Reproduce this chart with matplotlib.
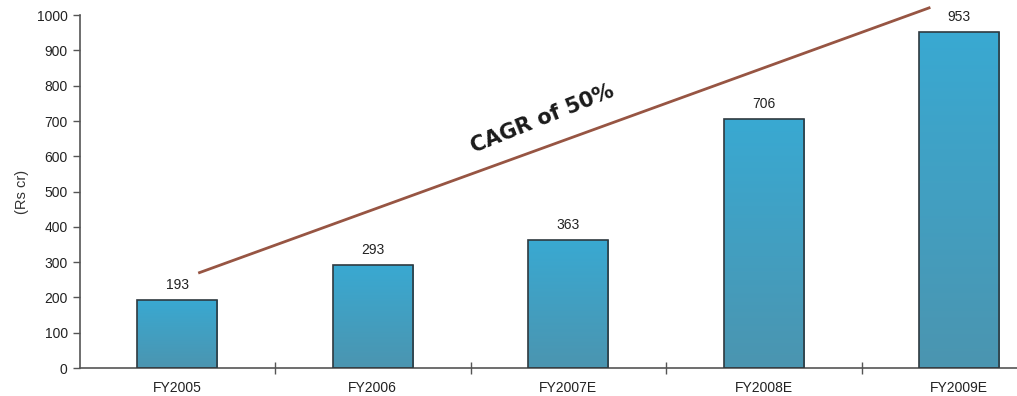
import matplotlib
matplotlib.use("Agg")
import matplotlib.pyplot as plt
import matplotlib.colors as mcolors
import numpy as np

plt.rcParams["font.family"] = ["Liberation Sans", "DejaVu Sans"]

# Revenue by financial year (Rs cr)
years = ["FY2005", "FY2006", "FY2007E", "FY2008E", "FY2009E"]
revenue = [193, 293, 363, 706, 953]

# Growth trend line drawn over the bars (category position, value)
trend_x = [0.107, 3.852]
trend_y = [269, 1022]
trend_label = "CAGR of 50%"

BAR_WIDTH = 0.41
BAR_TOP = "#39a9d2"
BAR_BOTTOM = "#4b95b0"
EDGE = "#2f3a40"
AXIS = "#555555"

fig = plt.figure(figsize=(10.17, 3.96), dpi=100)
ax = fig.add_axes([0.0782, 0.0707, 0.9218, 0.891])

x = np.arange(len(years))
grad = mcolors.LinearSegmentedColormap.from_list("bar", [BAR_BOTTOM, BAR_TOP])
ramp = np.linspace(0, 1, 256).reshape(-1, 1)

bars = ax.bar(x, revenue, width=BAR_WIDTH, facecolor="none",
              edgecolor=EDGE, linewidth=1.2, zorder=3)
for rect, val in zip(bars, revenue):
    x0 = rect.get_x()
    im = ax.imshow(ramp, cmap=grad, aspect="auto", origin="lower",
                   extent=(x0, x0 + rect.get_width(), 0, val), zorder=2)
    im.set_clip_path(rect)
    ax.text(rect.get_x() + rect.get_width() / 2, val + 22, f"{val}",
            ha="center", va="bottom", fontsize=10, color="#222222")

ax.plot(trend_x, trend_y, color="#975543", linewidth=2, zorder=4,
        clip_on=False, solid_capstyle="butt")
ax.text(1.87, 705, trend_label, rotation=22, ha="center", va="center",
        fontsize=15, fontweight="heavy", family="DejaVu Sans",
        color="#1a1a1a")

ax.set_xlim(-0.5, 4.295)
ax.set_ylim(0, 1000)
ax.set_yticks(np.arange(0, 1001, 100))
ax.set_xticks(x)
ax.set_xticklabels(years, fontsize=10)
ax.set_xticks(np.arange(0.5, 4.5, 1), minor=True)
ax.tick_params(axis="x", which="major", length=0, pad=9, colors="#222222")
ax.tick_params(axis="x", which="minor", direction="inout", length=8,
               color=AXIS, width=1)
ax.tick_params(axis="y", direction="out", length=5, color=AXIS, width=1,
               labelsize=10, labelcolor="#222222")
ax.set_ylabel("(Rs cr)", fontsize=10.5, color="#333333", labelpad=6)

for side in ("top", "right"):
    ax.spines[side].set_visible(False)
for side in ("left", "bottom"):
    ax.spines[side].set_color(AXIS)
    ax.spines[side].set_linewidth(1.2)

fig.savefig("out.png", dpi=100)
